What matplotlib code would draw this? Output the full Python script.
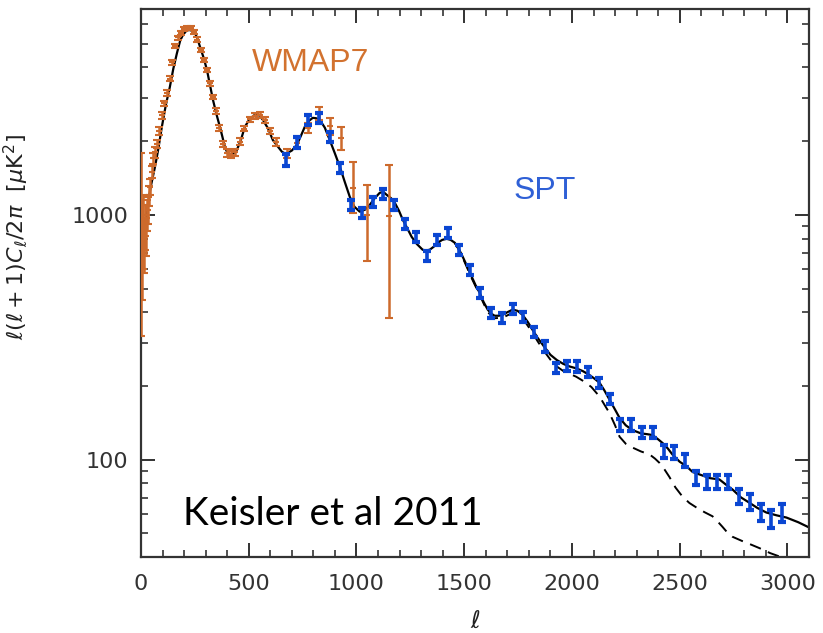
import matplotlib
matplotlib.use("Agg")
import matplotlib.pyplot as plt
from matplotlib.ticker import FixedLocator, LogLocator, NullFormatter, FuncFormatter, MultipleLocator

# best-fit LCDM spectrum (solid)
ell_th = [2, 5, 10, 16, 24, 32, 45, 65, 80, 97, 115, 134, 150, 167, 182, 195, 210, 223, 237, 250,
          262, 274, 290, 306, 320, 334, 350, 366, 378, 389, 400, 413, 428, 445, 462, 482, 505, 533,
          550, 566, 590, 612, 635, 654, 668, 681, 700, 723, 742, 760, 780, 797, 813, 830, 853, 876,
          900, 923, 946, 969, 990, 1015, 1040, 1062, 1085, 1108, 1125, 1140, 1160, 1178, 1197, 1215,
          1236, 1256, 1280, 1307, 1323, 1340, 1358, 1377, 1398, 1419, 1437, 1456, 1475, 1493, 1514,
          1535, 1553, 1572, 1590, 1609, 1625, 1641, 1660, 1678, 1700, 1725, 1748, 1771, 1795, 1817,
          1840, 1870, 1900, 1930, 1960, 1990, 2020, 2050, 2080, 2105, 2128, 2150, 2174, 2200, 2221,
          2250, 2281, 2320, 2350, 2374, 2400, 2420, 2445, 2466, 2500, 2531, 2560, 2592, 2640, 2684,
          2715, 2745, 2785, 2823, 2860, 2902, 2950, 2995, 3050, 3097]
dl_th = [1150, 980, 880, 845, 900, 1100, 1300, 1570, 1850, 2290, 2800, 3330, 3950, 4580, 5150, 5430,
         5640, 5690, 5650, 5530, 5250, 4850, 4400, 3910, 3400, 2950, 2580, 2290, 2080, 1895, 1800,
         1758, 1770, 1842, 2000, 2287, 2470, 2580, 2540, 2440, 2250, 2020, 1900, 1810, 1780, 1790,
         1830, 1930, 2100, 2287, 2420, 2490, 2480, 2440, 2270, 2020, 1780, 1570, 1360, 1184, 1080,
         1030, 1050, 1099, 1170, 1230, 1240, 1207, 1170, 1119, 1040, 954, 880, 813, 760, 720, 715,
         720, 740, 769, 790, 798, 790, 769, 725, 674, 615, 558, 515, 480, 440, 410, 395, 387, 387,
         390, 400, 410, 405, 390, 365, 339, 315, 290, 268, 255, 246, 240, 236, 230, 222, 214, 206,
         192, 176, 160, 148, 138, 132, 128, 127, 126, 121, 117, 111, 105, 98, 94, 89, 87, 84, 83,
         79, 75.5, 70, 66.7, 63.5, 60.8, 59.2, 58, 55.5, 53]

# primary CMB only (dashed), same as above below l~1450
ell_cmb = [1456, 1475, 1493, 1535, 1572, 1609, 1641, 1678, 1725, 1771, 1817, 1840, 1870, 1900, 1930,
           1960, 1990, 2020, 2058, 2090, 2128, 2150, 2174, 2200, 2221, 2250, 2281, 2320, 2360, 2385,
           2406, 2430, 2452, 2480, 2513, 2545, 2578, 2615, 2652, 2675, 2698, 2720, 2745, 2790, 2830,
           2870, 2920, 2970, 3010]
dl_cmb = [769, 720, 668, 550, 470, 400, 378, 380, 398, 378, 330, 305, 278, 256, 240, 230, 224, 218,
          208, 198, 181, 168, 155, 138, 124, 116, 112, 108, 105, 101, 97, 91, 85, 77, 70.6, 66.5,
          63.7, 61, 58.7, 56, 53.2, 50.5, 48.4, 46.5, 45, 43.5, 41.5, 40, 38.5]

# WMAP7 bandpowers
wmap_ell = [2, 5, 9, 13, 17, 22, 27, 32, 38, 44, 51, 58, 66, 75, 85, 96, 108, 120, 133, 145, 158,
            172, 186, 200, 215, 230, 247, 262, 277, 292, 306, 320, 334, 348, 362, 380, 399, 418,
            438, 458, 478, 504, 529, 552, 575, 600, 626, 676, 725, 774, 825, 876, 927, 983, 1050, 1150]
wmap_dl = [900, 700, 850, 750, 900, 820, 1000, 1050, 1200, 1300, 1500, 1700, 1800, 1950, 2200, 2550,
           2850, 3150, 3600, 4200, 4900, 5300, 5550, 5750, 5800, 5800, 5600, 5200, 4700, 4300, 3910,
           3450, 3030, 2650, 2260, 1950, 1790, 1760, 1800, 1990, 2250, 2460, 2530, 2560, 2440, 2200,
           1985, 1780, 1960, 2260, 2590, 2300, 2050, 1290, 1000, 990]
wmap_lo = [580, 250, 250, 170, 180, 140, 140, 130, 110, 100, 90, 90, 90, 80, 80, 80, 80, 80, 90, 100,
           100, 100, 100, 100, 100, 100, 100, 100, 90, 90, 80, 80, 70, 70, 60, 60, 60, 60, 60, 60,
           60, 60, 70, 70, 70, 70, 70, 80, 90, 110, 150, 180, 208, 271, 351, 610]
wmap_hi = [890, 400, 350, 200, 200, 150, 150, 130, 110, 100, 90, 90, 90, 80, 80, 80, 80, 80, 90, 100,
           100, 100, 100, 100, 100, 100, 100, 100, 90, 90, 80, 80, 70, 70, 60, 60, 60, 60, 60, 60,
           60, 60, 70, 70, 70, 70, 70, 80, 90, 110, 170, 190, 237, 355, 327, 610]

# SPT bandpowers (Keisler et al 2011)
spt_ell = [675, 725, 775, 825, 875, 925, 975, 1025, 1075, 1125, 1175, 1225, 1275, 1325, 1375, 1425,
           1475, 1525, 1575, 1625, 1675, 1725, 1775, 1825, 1875, 1925, 1975, 2025, 2075, 2125, 2175,
           2225, 2275, 2325, 2375, 2425, 2475, 2525, 2575, 2625, 2675, 2725, 2775, 2825, 2875, 2925,
           2975]
spt_dl = [1677, 1970, 2440, 2490, 2080, 1555, 1099, 1019, 1130, 1218, 1099, 919, 813, 680, 790, 845,
          720, 596, 480, 398, 380, 413, 384, 333, 290, 237, 242, 240, 229, 206, 177, 139, 139, 129,
          129, 108, 107, 99, 84.5, 81.2, 81.2, 81, 70.6, 67.4, 61.1, 57.5, 60.6]
spt_err = [95, 100, 115, 115, 95, 75, 55, 50, 55, 55, 50, 42, 38, 33, 36, 38, 33, 28, 22, 19, 18, 19,
           18, 16, 14, 12, 12, 12, 11, 10, 9, 7.5, 7.5, 7, 7, 6.5, 6.5, 6, 5.5, 5.5, 5.5, 5.5, 5, 5,
           5, 5, 5]

orange = '#cd6a2c'
blue = '#0a46d2'

fig = plt.figure(figsize=(8.23, 6.33), dpi=100)
ax = fig.add_axes([0.1713, 0.12, 0.8117, 0.8658])

ax.plot(ell_th, dl_th, color='black', lw=1.6, zorder=2)
ax.plot(ell_cmb, dl_cmb, color='black', lw=1.4, ls=(0, (6, 4)), zorder=2)

ax.errorbar(wmap_ell, wmap_dl, yerr=[wmap_lo, wmap_hi], fmt='_', color=orange, ms=5, mew=1.5,
            elinewidth=1.8, capsize=3, capthick=1.8, zorder=3)
ax.errorbar(spt_ell, spt_dl, yerr=spt_err, fmt='none', ecolor=blue, elinewidth=2.6,
            capsize=3.2, capthick=3, zorder=4)

ax.set_yscale('log')
ax.set_xlim(0, 3100)
ax.set_ylim(40, 6930)

ax.xaxis.set_major_locator(MultipleLocator(500))
ax.xaxis.set_minor_locator(MultipleLocator(100))
ax.yaxis.set_major_locator(FixedLocator([100, 1000]))
ax.yaxis.set_major_formatter(FuncFormatter(lambda v, p: '%d' % v))
ax.yaxis.set_minor_locator(LogLocator(base=10, subs=range(2, 10)))
ax.yaxis.set_minor_formatter(NullFormatter())

ax.tick_params(which='both', direction='in', top=True, right=True, colors='#222222',
               labelcolor='#333333', labelsize=16)
ax.tick_params(which='major', length=10, width=1.3)
ax.tick_params(which='minor', length=5, width=1.1)
ax.tick_params(axis='x', pad=12)
ax.tick_params(axis='y', pad=9)
for s in ax.spines.values():
    s.set_linewidth(1.6)
    s.set_color('#333333')

ax.set_xlabel(r'$\ell$', fontsize=17, color='#222222')
ax.xaxis.set_label_coords(0.5, -0.095)
ax.set_ylabel(r'$\ell(\ell+1)C_\ell/2\pi\ \ [\mu{\rm K}^2]$', fontsize=16, color='#222222')
ax.yaxis.set_label_coords(-0.166, 0.584)

# experiment labels and citation
fig.text(311 / 823, 1 - 63 / 633, 'WMAP7', color='#d2722f', fontsize=23, family='Liberation Sans',
         ha='center', va='center')
fig.text(545 / 823, 1 - 191 / 633, 'SPT', color='#2f60d6', fontsize=23, family='Liberation Sans',
         ha='center', va='center')
fig.text(333 / 823, 1 - 514 / 633, 'Keisler et al 2011', color='black', fontsize=28, family='Lato',
         ha='center', va='center')

fig.savefig('out.png', dpi=100)
